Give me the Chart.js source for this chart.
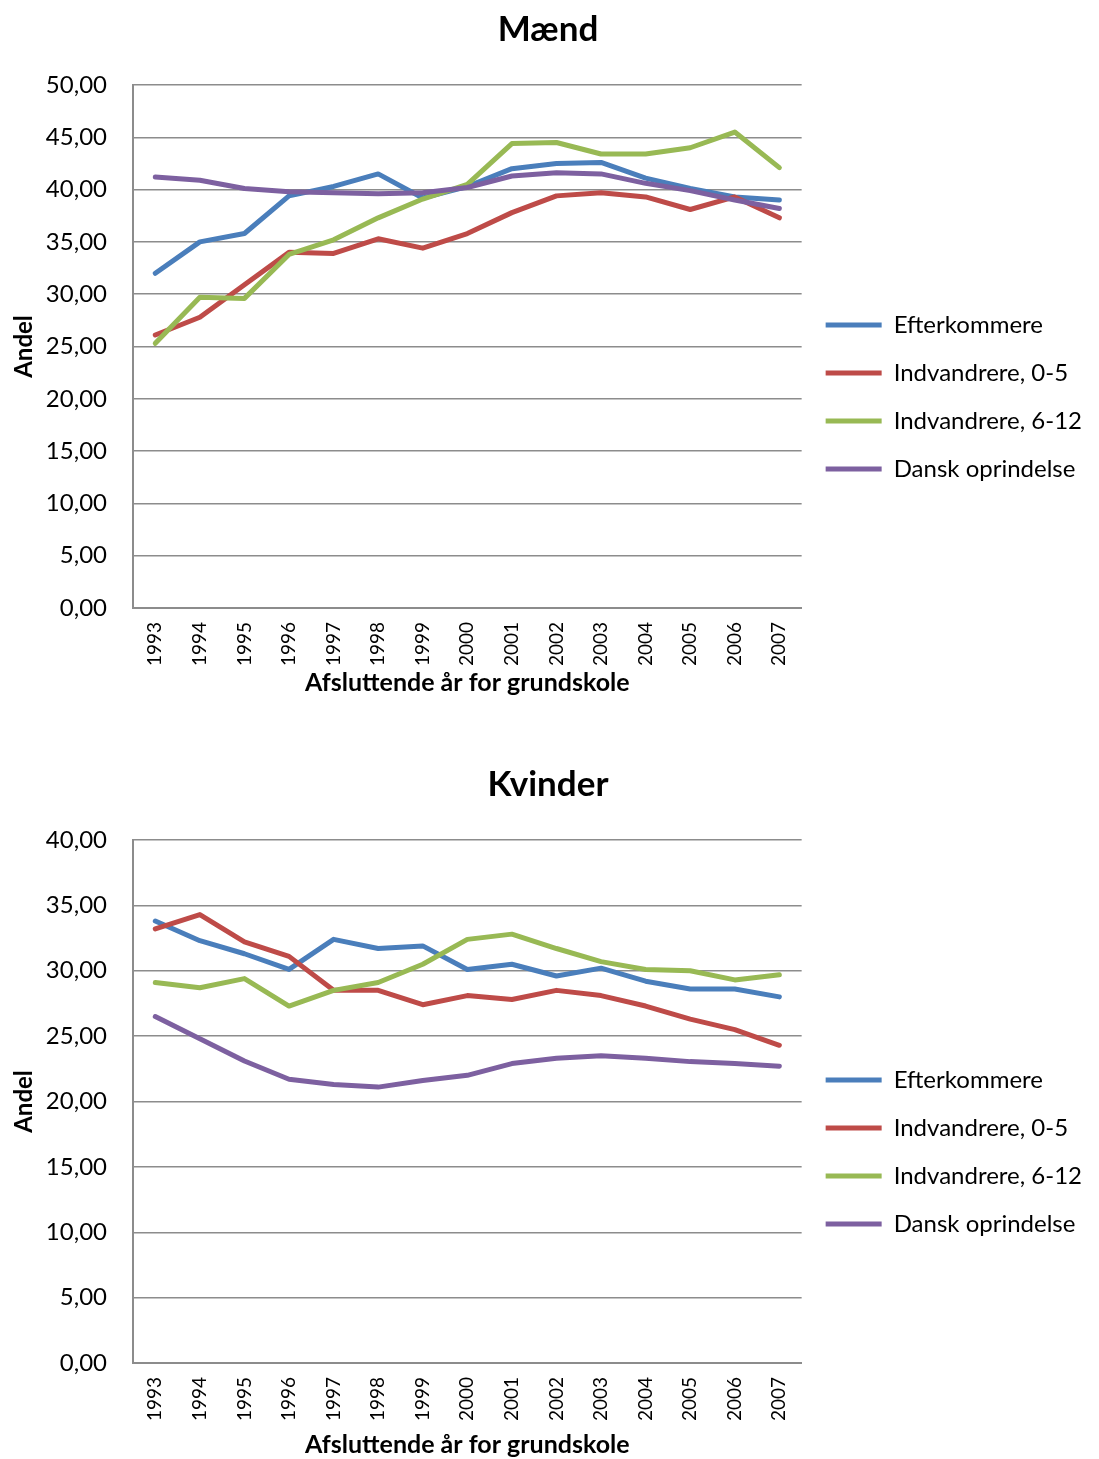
<!DOCTYPE html>
<html>
<head>
<meta charset="utf-8">
<script src="https://cdn.jsdelivr.net/npm/chart.js@4.4.0/dist/chart.umd.min.js"></script>
<style>
  body { margin: 0; background: #fff; }
  canvas { display: block; }
</style>
</head>
<body>
<canvas class="maendChart" width="1099" height="755"></canvas>
<canvas class="kvinderChart" width="1099" height="704"></canvas>
<script>
  // Data
  const years = ['1993', '1994', '1995', '1996', '1997', '1998', '1999', '2000', '2001', '2002', '2003', '2004', '2005', '2006', '2007']
  const seriesNames = ['Efterkommere', 'Indvandrere, 0-5', 'Indvandrere, 6-12', 'Dansk oprindelse']

  const maendEfterkommere = [32.0, 35.0, 35.8, 39.4, 40.3, 41.5, 39.2, 40.3, 42.0, 42.5, 42.6, 41.1, 40.1, 39.3, 39.0]
  const maendIndv05 = [26.1, 27.8, 30.9, 34.0, 33.9, 35.3, 34.4, 35.8, 37.8, 39.4, 39.7, 39.3, 38.1, 39.3, 37.3]
  const maendIndv612 = [25.3, 29.7, 29.6, 33.8, 35.2, 37.3, 39.1, 40.5, 44.4, 44.5, 43.4, 43.4, 44.0, 45.5, 42.1]
  const maendDansk = [41.2, 40.9, 40.1, 39.8, 39.7, 39.6, 39.7, 40.2, 41.3, 41.6, 41.5, 40.6, 39.9, 39.0, 38.2]

  const kvinderEfterkommere = [33.8, 32.3, 31.3, 30.1, 32.4, 31.7, 31.9, 30.1, 30.5, 29.6, 30.2, 29.2, 28.6, 28.6, 28.0]
  const kvinderIndv05 = [33.2, 34.3, 32.2, 31.1, 28.5, 28.5, 27.4, 28.1, 27.8, 28.5, 28.1, 27.3, 26.3, 25.5, 24.3]
  const kvinderIndv612 = [29.1, 28.7, 29.4, 27.3, 28.5, 29.1, 30.5, 32.4, 32.8, 31.7, 30.7, 30.1, 30.0, 29.3, 29.7]
  const kvinderDansk = [26.5, 24.8, 23.1, 21.7, 21.3, 21.1, 21.6, 22.0, 22.9, 23.3, 23.5, 23.3, 23.05, 22.9, 22.7]

  const maendMax = 50
  const kvinderMax = 40
  const yStep = 5

  const colors = ['#4A7EBB', '#BE4B48', '#98B954', '#7D60A0']
  const gridColor = '#8c8c8c'
  const font = 'Lato'

  function makeDatasets(seriesValues) {
    return seriesValues.map((values, i) => ({
      label: seriesNames[i],
      data: values,
      borderColor: colors[i],
      backgroundColor: colors[i],
      borderWidth: 5,
      borderCapStyle: 'round',
      borderJoinStyle: 'round',
      pointRadius: 0,
      tension: 0,
      order: 3 - i
    }))
  }

  function makeChart(canvas, titleText, seriesValues, yMax, xScaleHeight) {
    return new Chart(canvas.getContext('2d'), {
      type: 'line',
      data: {
        labels: years,
        datasets: makeDatasets(seriesValues)
      },
      options: {
        responsive: false,
        animation: false,
        layout: { padding: { left: 4, right: 7, top: 0, bottom: canvas.height - 608 - xScaleHeight } },
        plugins: {
          tooltip: { enabled: false },
          title: {
            display: true,
            text: titleText,
            color: '#000',
            font: { family: font, size: 35, weight: 'bold', lineHeight: 1.2 },
            padding: { top: 9, bottom: 34 }
          },
          legend: {
            position: 'right',
            align: 'start',
            maxWidth: 320,
            title: { display: true, text: '', font: { size: 1, lineHeight: 1 }, padding: { top: 288, bottom: 0 } },
            labels: {
              usePointStyle: true,
              pointStyle: 'line',
              pointStyleWidth: 56,
              padding: 24,
              color: '#000',
              font: { family: font, size: 24 },
              sort: (a, b) => a.datasetIndex - b.datasetIndex
            }
          }
        },
        scales: {
          x: {
            offset: true,
            grid: { display: false, drawTicks: false },
            border: { display: true, color: gridColor, width: 2 },
            ticks: {
              minRotation: 90,
              maxRotation: 90,
              padding: 14,
              color: '#000',
              font: { family: font, size: 19 }
            },
            title: {
              display: true,
              text: 'Afsluttende år for grundskole',
              color: '#000',
              font: { family: font, size: 25, weight: 'bold', lineHeight: 1.2 },
              padding: 0
            },
            afterFit: (scale) => { scale.height = xScaleHeight }
          },
          y: {
            min: 0,
            max: yMax,
            ticks: {
              stepSize: yStep,
              padding: 26,
              color: '#000',
              font: { family: font, size: 24 },
              callback: (value) => value.toFixed(2).replace('.', ',')
            },
            grid: { color: gridColor, lineWidth: 1.5, drawTicks: false },
            border: { display: true, color: gridColor, width: 2 },
            title: {
              display: true,
              text: 'Andel',
              color: '#000',
              font: { family: font, size: 24, weight: 'bold', lineHeight: 0.7 },
              padding: { top: 12, bottom: 0 }
            },
            afterFit: (scale) => { scale.width = 129 }
          }
        }
      }
    })
  }

  makeChart(document.querySelector('.maendChart'), 'Mænd',
    [maendEfterkommere, maendIndv05, maendIndv612, maendDansk], maendMax, 90)
  makeChart(document.querySelector('.kvinderChart'), 'Kvinder',
    [kvinderEfterkommere, kvinderIndv05, kvinderIndv612, kvinderDansk], kvinderMax, 97)
</script>
</body>
</html>
